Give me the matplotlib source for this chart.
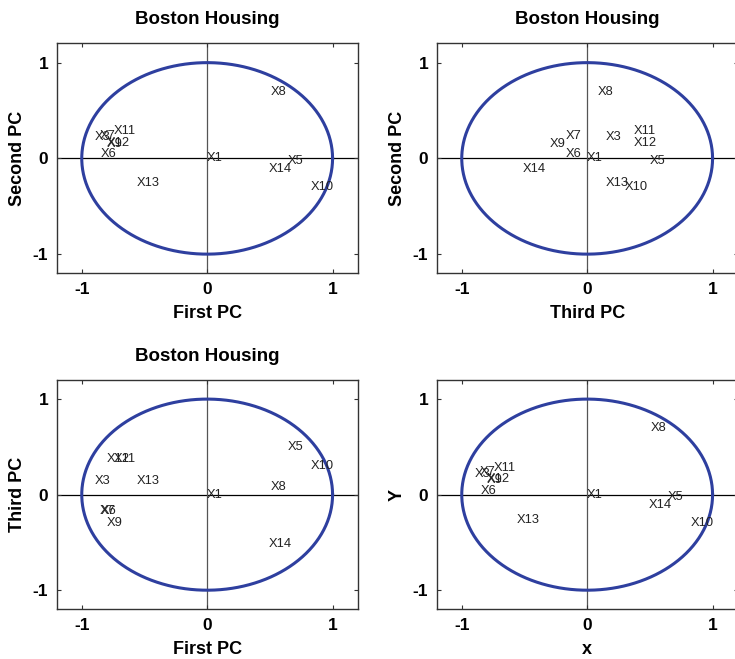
import numpy as np
import matplotlib
matplotlib.use("Agg")
import matplotlib.pyplot as plt

plt.rcParams['font.family'] = ['Liberation Sans', 'DejaVu Sans']

variables = ["X1", "X3", "X5", "X6", "X7", "X8", "X9", "X10", "X11", "X12", "X13", "X14"]
pc1 = [0.0, -0.90, 0.64, -0.85, -0.855, 0.51, -0.80, 0.825, -0.745, -0.80, -0.563, 0.49]
pc2 = [0.0, 0.22, -0.025, 0.041, 0.235, 0.694, 0.155, -0.297, 0.283, 0.159, -0.262, -0.11]
pc3 = [0.0, 0.148, 0.50, -0.173, -0.173, 0.085, -0.30, 0.30, 0.37, 0.37, 0.148, -0.515]

ticks = [-1, 0, 1]
tick_labels = ["-1", "0", "1"]

panels = [
    (pc1, pc2, "First PC", "Second PC", "Boston Housing"),
    (pc3, pc2, "Third PC", "Second PC", "Boston Housing"),
    (pc1, pc3, "First PC", "Third PC", "Boston Housing"),
    (pc1, pc2, "x", "Y", None),
]
positions = [
    [0.0771, 0.5853, 0.4095, 0.3487],
    [0.5941, 0.5853, 0.4095, 0.3487],
    [0.0771, 0.0754, 0.4095, 0.3480],
    [0.5941, 0.0754, 0.4095, 0.3480],
]

fig = plt.figure(figsize=(7.35, 6.59), dpi=100)
theta = np.linspace(0, 2 * np.pi, 400)
for (xs, ys, xl, yl, title), pos in zip(panels, positions):
    ax = fig.add_axes(pos)
    ax.plot(np.cos(theta), np.sin(theta), color='#2e3f9f', lw=2.2, zorder=3)
    ax.axhline(0, color='black', lw=0.9, zorder=1)
    ax.axvline(0, color='#555555', lw=0.9, zorder=1)
    for name, x, y in zip(variables, xs, ys):
        ax.text(x, y, name, ha='left', va='center', fontsize=9.3, color='#222222', zorder=4)
    ax.set_xlim(-1.2, 1.2)
    ax.set_ylim(-1.2, 1.2)
    ax.set_xticks(ticks)
    ax.set_xticklabels(tick_labels)
    ax.set_yticks(ticks)
    ax.set_yticklabels(tick_labels)
    ax.tick_params(direction='in', length=3, width=0.8, top=True, right=True,
                   labelsize=12.5, pad=6, colors='#333333', labelcolor='black')
    for lab in ax.get_xticklabels() + ax.get_yticklabels():
        lab.set_fontweight('bold')
    for sp in ax.spines.values():
        sp.set_color('#333333')
        sp.set_linewidth(1.0)
    ax.set_xlabel(xl, fontsize=13, fontweight='bold', labelpad=6)
    ax.set_ylabel(yl, fontsize=13, fontweight='bold', labelpad=5)
    if title:
        ax.set_title(title, fontsize=13.5, fontweight='bold', pad=14)

fig.savefig("out.png", dpi=100)
